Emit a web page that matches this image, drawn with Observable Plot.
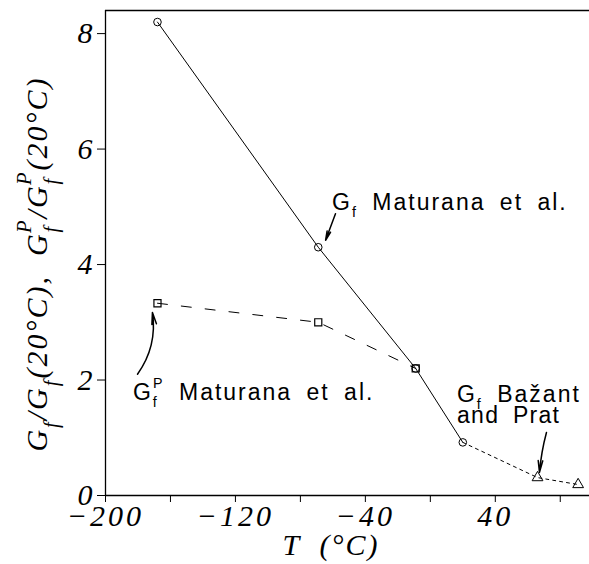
<!DOCTYPE html>
<html>
<head>
<meta charset="utf-8">
<script src="https://cdn.jsdelivr.net/npm/d3@7"></script>
<script src="https://cdn.jsdelivr.net/npm/@observablehq/plot@0.6"></script>
<style>
  body { margin: 0; background: #fff; }
  svg { overflow: visible; }
</style>
</head>
<body>
<div id="chart"></div>
<script>
// ---- data ----
const gfT = [-168, -69, -9, 20];
const gfValues = [8.2, 4.3, 2.2, 0.92];
const gfPT = [-168, -69, -9];
const gfPValues = [3.33, 3.0, 2.2];
const bpT = [20, 66, 91];
const bpValues = [0.92, 0.31, 0.19];
const xTicks = [-200, -160, -120, -80, -40, 0, 40, 80];
const xTickLabels = [-200, -120, -40, 40];
const yTicks = [0, 2, 4, 6, 8];

const gf = gfT.map((t, i) => ({T: t, v: gfValues[i]}));
const gfP = gfPT.map((t, i) => ({T: t, v: gfPValues[i]}));
const bp = bpT.map((t, i) => ({T: t, v: bpValues[i]}));

// annotation arrows (data coordinates)
const arrowMaturana = [{x1: -58.4, y1: 4.88, x2: -64.5, y2: 4.42}];
const arrowMaturanaP = [{x1: -180.3, y1: 2.1, x2: -171.1, y2: 3.17}];
const arrowBazant = [{x1: 71.5, y1: 1.09, x2: 67.2, y2: 0.40}];

const minus = d => d < 0 ? "\u2212" + (-d) : String(d);
const arrowOpts = {x1: "x1", y1: "y1", x2: "x2", y2: "y2", stroke: "#000", strokeWidth: 1.5, headLength: 12, headAngle: 22};

const plot = Plot.plot({
  width: 589,
  height: 564,
  marginLeft: 105,
  marginRight: 0,
  marginTop: 10,
  marginBottom: 69,
  style: {fontFamily: "'Liberation Serif', serif", fontStyle: "italic", fontSize: "30px", color: "#000", background: "#fff", letterSpacing: "3px"},
  x: {domain: [-200, 98]},
  y: {domain: [0, 8.4]},
  marks: [
    Plot.axisX({ticks: xTicks, tickSize: 7, tickPadding: 2, fontSize: 30,
      tickFormat: d => xTickLabels.includes(d) ? minus(d) : "", label: null}),
    Plot.axisY({ticks: yTicks, tickSize: 8, tickPadding: 2, fontSize: 30,
      tickFormat: d => String(d), label: null}),
    Plot.ruleX([-200], {stroke: "#000", strokeWidth: 1.3}),
    Plot.ruleY([0], {stroke: "#000", strokeWidth: 1.3}),
    Plot.ruleY([8.4], {stroke: "#000", strokeWidth: 1.3}),
    Plot.line(gf, {x: "T", y: "v", stroke: "#000", strokeWidth: 1}),
    Plot.line(gfP, {x: "T", y: "v", stroke: "#000", strokeWidth: 1, strokeDasharray: "10,14"}),
    Plot.line(bp, {x: "T", y: "v", stroke: "#000", strokeWidth: 1, strokeDasharray: "3,4"}),
    Plot.dot(gf, {x: "T", y: "v", symbol: "circle", r: 3.8, stroke: "#000", strokeWidth: 1}),
    Plot.dot(gfP, {x: "T", y: "v", symbol: "square", r: 4, stroke: "#000", strokeWidth: 1.2}),
    Plot.dot(bp, {x: "T", y: "v", symbol: "triangle", r: 4, stroke: "#000", strokeWidth: 1, filter: (d, i) => i > 0}),
    Plot.arrow(arrowMaturana, arrowOpts),
    Plot.arrow(arrowMaturanaP, {...arrowOpts, bend: -22}),
    Plot.arrow(arrowBazant, {...arrowOpts, bend: -5})
  ]
});
document.getElementById("chart").appendChild(plot);

const sx = plot.scale("x").apply, sy = plot.scale("y").apply;
const svg = d3.select(plot);

// rich text helper: parts = [[text, kind]] kind: null | "sub" | "sup" | "supstack"
function rich(g, parts, size, attrs) {
  const t = g.append("text");
  for (const [k, v] of Object.entries(attrs)) t.attr(k, v);
  let off = 0;
  const small = size * 0.62;
  for (const [txt, kind] of parts) {
    const s = t.append("tspan").text(txt);
    let target = 0;
    if (kind === "sub") target = size * 0.32;
    else if (kind === "sup" || kind === "supstack") target = -size * 0.5;
    const dy = target - off;
    if (dy !== 0) s.attr("dy", dy);
    off = target;
    if (kind) s.attr("font-size", small);
    if (kind === "supstack") s.attr("dx", -small * 0.4);
  }
  return t;
}

const ann = svg.append("g")
  .attr("font-family", "'Liberation Sans', Arial, sans-serif")
  .attr("font-style", "normal")
  .attr("font-size", 23)
  .attr("text-anchor", "start")
  .attr("fill", "#000")
  .attr("letter-spacing", "2px")
  .attr("word-spacing", "6px");

rich(ann, [["G", null], ["f", "sub"], [" Maturana et al.", null]], 23,
  {x: sx(-60.2), y: sy(4.94)});
rich(ann, [["G", null], ["f", "sub"], ["P", "supstack"], [" Maturana et al.", null]], 23,
  {x: sx(-182.8), y: sy(1.65)});
rich(ann, [["G", null], ["f", "sub"], [" Bažant", null]], 23,
  {x: sx(16.7), y: sy(1.61)});
ann.append("text").attr("x", sx(16.7)).attr("y", sy(1.25)).attr("letter-spacing", "1.3px").text("and Prat");

const lab = svg.append("g")
  .attr("font-family", "'Liberation Serif', serif")
  .attr("font-style", "italic")
  .attr("letter-spacing", "2px")
  .attr("fill", "#000");

lab.append("text").attr("x", 331).attr("y", 555).attr("text-anchor", "middle")
  .attr("font-size", 30).attr("xml:space", "preserve").text("T  (°C)");

rich(lab, [["G", null], ["f", "sub"], ["/G", null], ["f", "sub"], ["(20°C),  G", null], ["f", "sub"], ["P", "supstack"],
  ["/G", null], ["f", "sub"], ["P", "supstack"], ["(20°C)", null]], 33,
  {transform: "translate(47,264) rotate(-90)", "text-anchor": "middle", "xml:space": "preserve"});
</script>
</body>
</html>
